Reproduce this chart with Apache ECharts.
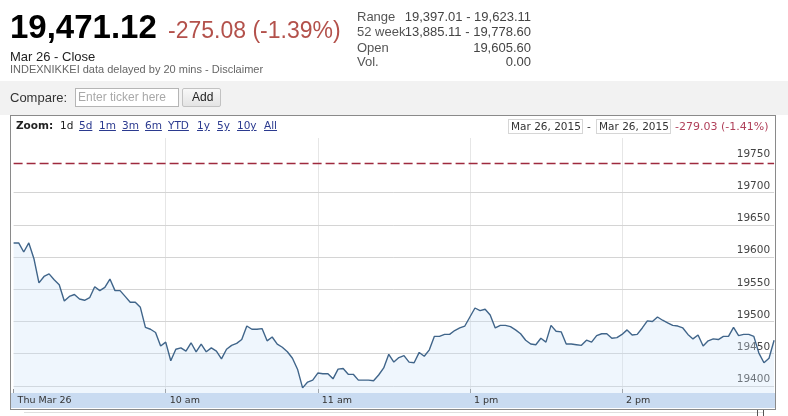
<!DOCTYPE html>
<html><head><meta charset="utf-8">
<script src="https://cdn.jsdelivr.net/npm/echarts@6/dist/echarts.min.js"></script>
<style>
body{margin:0;width:788px;height:416px;overflow:hidden;background:#fff;position:relative;font-family:'Liberation Sans',Arial,sans-serif;}
.a{position:absolute;white-space:nowrap;line-height:1;}
.v{font-family:'DejaVu Sans',Verdana,sans-serif;font-size:10.5px;}
.lk{color:#2b3a8f;text-decoration:underline;}
</style></head><body>
<!-- background layers -->
<div class="a" style="left:0;top:81px;width:788px;height:34px;background:#f2f2f2"></div>
<div class="a" style="left:10px;top:115px;width:766px;height:295px;box-sizing:border-box;border:1px solid #8a8a8a;background:#fff"></div>
<div class="a" style="left:11px;top:393px;width:764px;height:15px;background:#c9dbf1"></div>
<div class="a" style="left:24px;top:412px;width:740px;height:1px;background:#dedede"></div>
<div class="a" style="left:757px;top:410px;width:1px;height:6px;background:#555"></div>
<div class="a" style="left:763px;top:410px;width:1px;height:6px;background:#555"></div>

<div id="chart" class="a" style="left:0;top:0;width:788px;height:416px"></div>

<!-- header -->
<div class="a" style="left:10px;top:10px;font-size:33px;font-weight:bold;color:#000">19,471.12</div>
<div class="a" style="left:168px;top:18.5px;font-size:23px;color:#b3514b">-275.08 (-1.39%)</div>
<div class="a" style="left:10px;top:50px;font-size:13px;color:#222">Mar 26 - Close</div>
<div class="a" style="left:10px;top:64px;font-size:11px;color:#666">INDEXNIKKEI data delayed by 20 mins - Disclaimer</div>

<div class="a" style="left:357px;top:10px;font-size:13px;color:#555">Range</div>
<div class="a" style="left:357px;top:25px;font-size:13px;color:#555">52 week</div>
<div class="a" style="left:357px;top:40.5px;font-size:13px;color:#555">Open</div>
<div class="a" style="left:357px;top:55px;font-size:13px;color:#555">Vol.</div>
<div class="a" style="right:257px;top:10px;font-size:13px;color:#444;text-align:right">19,397.01 - 19,623.11</div>
<div class="a" style="right:257px;top:25px;font-size:13px;color:#444;text-align:right">13,885.11 - 19,778.60</div>
<div class="a" style="right:257px;top:40.5px;font-size:13px;color:#444;text-align:right">19,605.60</div>
<div class="a" style="right:257px;top:55px;font-size:13px;color:#444;text-align:right">0.00</div>

<!-- compare bar -->
<div class="a" style="left:10px;top:91px;font-size:13px;color:#333">Compare:</div>
<div class="a" style="left:75px;top:88px;width:104px;height:19px;box-sizing:border-box;border:1px solid #b5b5b5;background:#fff"></div>
<div class="a" style="left:78px;top:91px;font-size:12px;color:#a9a9a9">Enter ticker here</div>
<div class="a" style="left:182px;top:88px;width:39px;height:19px;box-sizing:border-box;border:1px solid #c2c2c2;border-radius:2px;background:linear-gradient(#f8f8f8,#e4e4e4)"></div>
<div class="a" style="left:192px;top:91px;font-size:12px;color:#222">Add</div>

<!-- zoom bar -->
<div class="a v" style="left:16px;top:120px;font-weight:bold;color:#222">Zoom:</div>
<div class="a v" style="left:60px;top:120px;color:#222">1d</div>
<div class="a v lk" style="left:79px;top:120px">5d</div>
<div class="a v lk" style="left:99px;top:120px">1m</div>
<div class="a v lk" style="left:122px;top:120px">3m</div>
<div class="a v lk" style="left:145px;top:120px">6m</div>
<div class="a v lk" style="left:168px;top:120px">YTD</div>
<div class="a v lk" style="left:197px;top:120px">1y</div>
<div class="a v lk" style="left:217px;top:120px">5y</div>
<div class="a v lk" style="left:237px;top:120px">10y</div>
<div class="a v lk" style="left:264px;top:120px">All</div>

<div class="a" style="left:508px;top:119px;width:75px;height:15px;box-sizing:border-box;border:1px solid #d6d6d6"></div>
<div class="a v" style="left:511px;top:121px;color:#333">Mar 26, 2015</div>
<div class="a v" style="left:587px;top:121px;color:#333">-</div>
<div class="a" style="left:596px;top:119px;width:75px;height:15px;box-sizing:border-box;border:1px solid #d6d6d6"></div>
<div class="a v" style="left:599px;top:121px;color:#333">Mar 26, 2015</div>
<div class="a v" style="left:675px;top:121px;color:#b0405a;font-size:11px">-279.03 (-1.41%)</div>

<script>
// Nikkei 225 intraday, 26 Mar 2015, one value every 2 trading minutes from 9:00 (lunch break removed)
const values = [
  19622, 19622, 19608, 19622, 19598, 19560, 19570, 19574, 19565, 19557,
  19532, 19539, 19542, 19535, 19533, 19537, 19554, 19548, 19553, 19566,
  19548, 19548, 19539, 19530, 19530, 19522, 19491, 19488, 19483, 19462,
  19468, 19439, 19457, 19459, 19454, 19467, 19453, 19465, 19453, 19459,
  19454, 19442, 19457, 19463, 19466, 19472, 19493, 19488, 19488, 19489,
  19470, 19476, 19465, 19460, 19453, 19443, 19426, 19397, 19406, 19409,
  19420, 19419, 19419, 19411, 19426, 19427, 19418, 19418, 19409, 19409,
  19409, 19408, 19417, 19428, 19449, 19437, 19444, 19447, 19437, 19436,
  19452, 19446, 19456, 19477, 19477, 19480, 19480, 19486, 19490, 19493,
  19507, 19521, 19517, 19519, 19510, 19490, 19494, 19494, 19492, 19487,
  19481, 19471, 19465, 19464, 19474, 19468, 19494, 19485, 19484, 19465,
  19465, 19464, 19463, 19471, 19468, 19478, 19481, 19481, 19474, 19475,
  19480, 19487, 19479, 19480, 19490, 19501, 19500, 19507, 19502, 19498,
  19494, 19493, 19490, 19480, 19473, 19479, 19462, 19470, 19473, 19472,
  19477, 19477, 19491, 19478, 19480, 19480, 19477, 19451, 19436, 19443,
  19471
];
const stepMinutes = 2;
const xTickValues = [0, 60, 120, 180, 240];
const xTickLabels = ['Thu Mar 26', '10 am', '11 am', '1 pm', '2 pm'];
const yTickValues = [19400, 19450, 19500, 19550, 19600, 19650, 19700, 19750];
const prevClose = 19746.20;

const chart = echarts.init(document.getElementById('chart'), null, {renderer: 'canvas'});
const seriesData = values.map((v, i) => [i * stepMinutes, v]);
const gridLines = yTickValues.map(v => ({
  yAxis: v,
  lineStyle: v === 19750 ? {color: 'rgba(0,0,0,0)'} : {color: '#d4d4d4', width: 1, type: 'solid'}
}));

chart.setOption({
  animation: false,
  backgroundColor: 'transparent',
  grid: {left: 13.6, right: 13.9, top: 138, bottom: 23, containLabel: false, outerBoundsMode: 'none'},
  xAxis: {
    type: 'value', min: 0, max: 300, interval: 60,
    axisLine: {show: false},
    axisTick: {show: true, inside: true, length: 4, lineStyle: {color: '#8a8a8a'}},
    splitLine: {show: true, showMinLine: false, showMaxLine: false, lineStyle: {color: '#e6e6e6', width: 1}},
    axisLabel: {
      show: true, align: 'left', margin: 3, padding: [0, 0, 0, 4],
      fontFamily: 'DejaVu Sans', fontSize: 9.5, color: '#333',
      showMaxLabel: false,
      formatter: v => { const i = xTickValues.indexOf(v); return i >= 0 ? xTickLabels[i] : ''; }
    }
  },
  yAxis: {type: 'value', min: 19389, max: 19785, show: false},
  series: [{
    type: 'line', z: 2, data: seriesData, showSymbol: false, symbol: 'none',
    lineStyle: {color: '#40658a', width: 1.4},
    areaStyle: {color: 'rgba(205,228,250,0.45)', origin: 'start'},
    markLine: {
      silent: true, z: 1, animation: false, symbol: ['none', 'none'],
      label: {
        position: 'insideEndTop', distance: [4, 1], color: '#444',
        fontFamily: 'DejaVu Sans', fontSize: 10.5,
        formatter: p => String(Math.round(p.value))
      },
      data: gridLines
    }
  }, {
    name: 'Previous close', type: 'line', z: 3, data: [], color: '#9e2a3e',
    markLine: {
      silent: true, animation: false, symbol: ['none', 'none'],
      lineStyle: {color: '#9e2a3e', type: [9, 4], width: 1.4},
      label: {show: false},
      data: [{yAxis: prevClose}]
    }
  }]
});
</script>
</body></html>
